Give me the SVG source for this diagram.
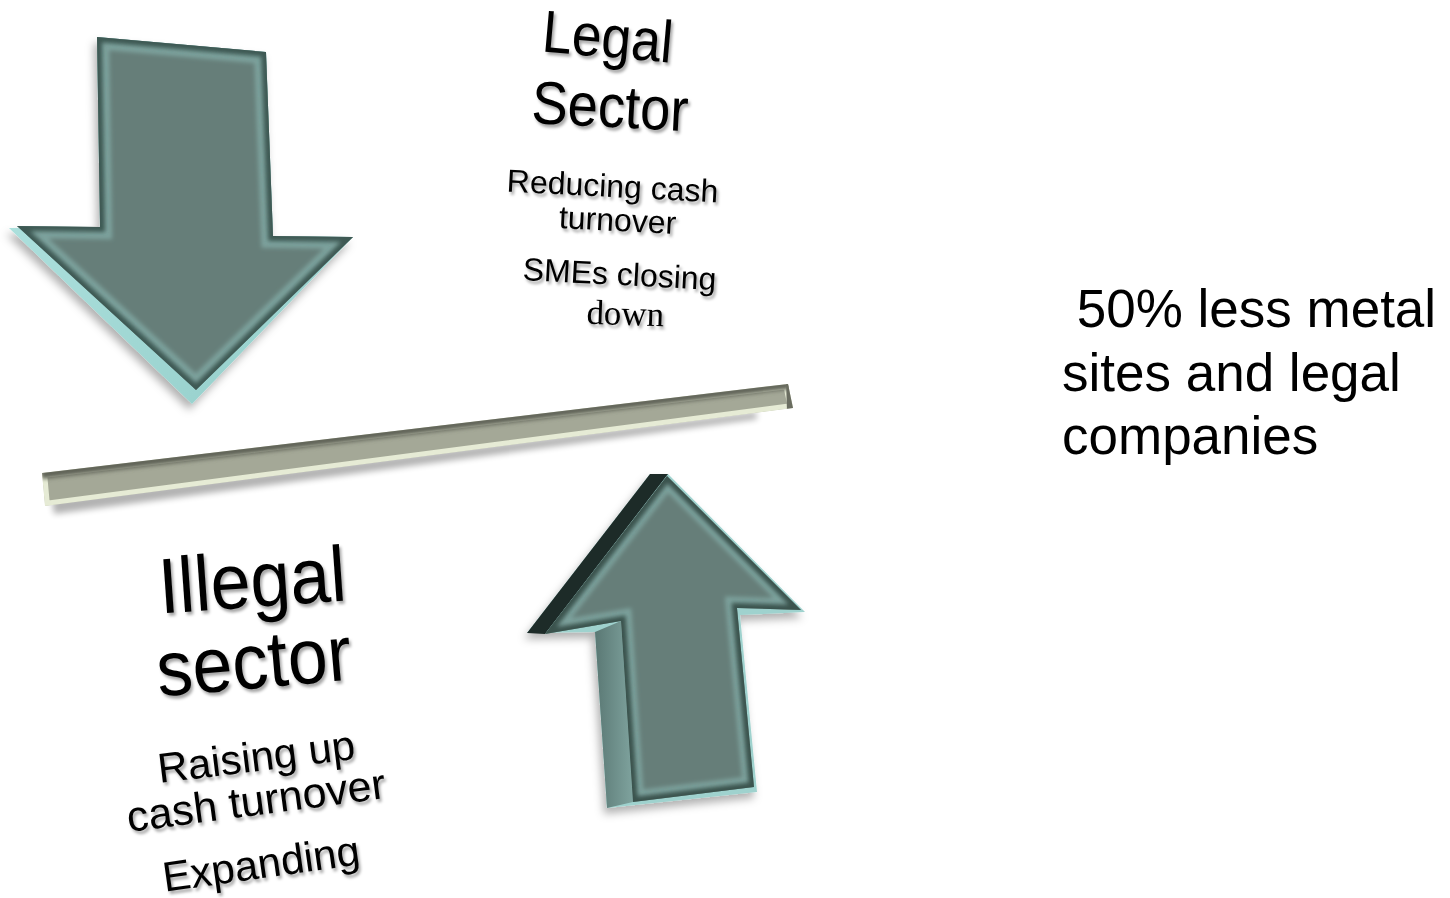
<svg xmlns="http://www.w3.org/2000/svg" width="1450" height="898" viewBox="0 0 1450 898">
  <style>
    .sans { font-family: "Liberation Sans", Arial, sans-serif; fill: #000; }
    .serif { font-family: "Liberation Serif", "Times New Roman", serif; fill: #000; }
    .mid { text-anchor: middle; }
    .shadowed { filter: url(#txtShadow); }
  </style>
  <defs>
    <filter id="txtShadow" x="-20%" y="-40%" width="140%" height="180%">
      <feDropShadow dx="2" dy="3" stdDeviation="1.6" flood-color="#000" flood-opacity="0.35"/>
    </filter>
    <filter id="shapeShadow" x="-20%" y="-20%" width="140%" height="140%">
      <feDropShadow dx="-3" dy="6" stdDeviation="4" flood-color="#000" flood-opacity="0.3"/>
    </filter>
    <filter id="soft" x="-10%" y="-10%" width="120%" height="120%">
      <feGaussianBlur stdDeviation="2"/>
    </filter>
    <filter id="blur3" x="-10%" y="-50%" width="120%" height="200%">
      <feGaussianBlur stdDeviation="3"/>
    </filter>
    <path id="downFace" d="M97,37 L266,52 L273,236 L353,237 L196,390 L17,226 L100,227 Z"/>
    <path id="upFace" d="M667,476 L801,610 L737,608 L754,787 L633,802 L621,621 L545,634 Z"/>
    <path id="barFace" d="M42,473 L788,384 L793,408 L45,506 Z"/>
    <clipPath id="downClip"><use href="#downFace"/></clipPath>
    <clipPath id="upClip"><use href="#upFace"/></clipPath>
    <clipPath id="barClip"><use href="#barFace"/></clipPath>
    <linearGradient id="upSide" x1="0" y1="0" x2="1" y2="0">
      <stop offset="0" stop-color="#5a7874"/>
      <stop offset="1" stop-color="#7fa39e"/>
    </linearGradient>
    <linearGradient id="downSide" x1="0" y1="0" x2="1" y2="1">
      <stop offset="0" stop-color="#b4e6e3"/>
      <stop offset="1" stop-color="#93cdc9"/>
    </linearGradient>
  </defs>

  <!-- falling arrow: legal sector going down -->
  <g id="arrow-down">
    <path d="M97,37 L266,52 L273,236 L353,237 L192,404 L9,228 L100,227 Z" fill="url(#downSide)" filter="url(#shapeShadow)"/>
    <g clip-path="url(#downClip)">
      <use href="#downFace" fill="#667e79"/>
      <use href="#downFace" fill="none" stroke="#7da29d" stroke-width="24" filter="url(#soft)"/>
      <use href="#downFace" fill="none" stroke="#3e5853" stroke-width="10" filter="url(#soft)"/>
    </g>
  </g>

  <!-- dividing bar between the sectors -->
  <g id="divider">
    <path d="M52,500 L756,412 L757,419 L54,514 Z" fill="#000" opacity="0.3" filter="url(#blur3)"/>
    <g clip-path="url(#barClip)">
      <use href="#barFace" fill="#a4a897"/>
      <use href="#barFace" fill="none" stroke="#e6ebd5" stroke-width="10"/>
      <path d="M40,470 L790,381 L790,389 L42,479 Z" fill="#5f6256" filter="url(#soft)"/>
      <path d="M786,380 L796,380 L796,412 L787,412 Z" fill="#6a6d60"/>
    </g>
  </g>

  <!-- rising arrow: illegal sector going up -->
  <g id="arrow-up">
    <path d="M527,633 L650,474 L668,474 L805,612 L740,615 L757,792 L607,808 L595,632 Z" fill="#9fd2ce" filter="url(#shapeShadow)"/>
    <path d="M527,633 L650,474 L668,474 L545,634 Z" fill="#1d2b28"/>
    <path d="M595,632 L621,621 L633,802 L607,808 Z" fill="url(#upSide)"/>
    <g clip-path="url(#upClip)">
      <use href="#upFace" fill="#667e79"/>
      <use href="#upFace" fill="none" stroke="#7da29d" stroke-width="22" filter="url(#soft)"/>
      <use href="#upFace" fill="none" stroke="#3a524e" stroke-width="10" filter="url(#soft)"/>
    </g>
  </g>

  <!-- legal sector labels -->
  <g id="legal-sector" class="shadowed">
    <text class="sans mid" font-size="55" transform="translate(606,57) rotate(5) scale(0.97,1.08)">Legal</text>
    <text class="sans mid" font-size="56" transform="translate(609,127) rotate(3) scale(0.97,1.08)">Sector</text>
    <text class="sans mid" font-size="32" transform="translate(612,197) rotate(3)">Reducing cash</text>
    <text class="sans mid" font-size="32" transform="translate(617,231) rotate(3)">turnover</text>
    <text class="sans mid" font-size="32" transform="translate(619,285) rotate(3)">SMEs closing</text>
    <text class="serif mid" font-size="35" transform="translate(625,325) rotate(2)">down</text>
  </g>

  <!-- illegal sector labels -->
  <g id="illegal-sector" class="shadowed">
    <text class="sans mid" font-size="74" transform="translate(254,607) rotate(-4) scale(0.97,1.06)">Illegal</text>
    <text class="sans mid" font-size="74" transform="translate(256,688) rotate(-5) scale(0.97,1.06)">sector</text>
    <text class="sans mid" font-size="42" transform="translate(258,771) rotate(-7)">Raising up</text>
    <text class="sans mid" font-size="43" transform="translate(258,815) rotate(-7.5)">cash turnover</text>
    <text class="sans mid" font-size="42" transform="translate(263,878) rotate(-8)">Expanding</text>
  </g>

  <!-- side note -->
  <g id="note">
    <text class="sans" font-size="53" x="1062" y="327" xml:space="preserve"> 50% less metal</text>
    <text class="sans" font-size="53" x="1062" y="391">sites and legal</text>
    <text class="sans" font-size="53" x="1062" y="454">companies</text>
  </g>
</svg>
